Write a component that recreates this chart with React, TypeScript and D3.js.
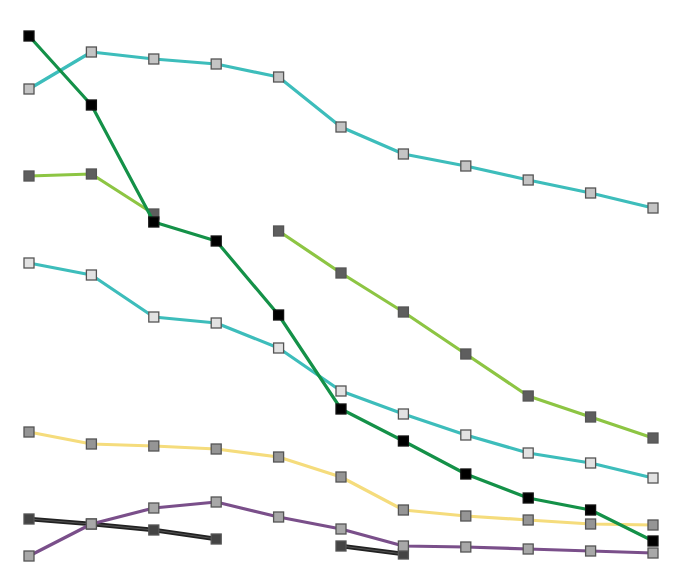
import React, { useEffect, useRef } from "react";
import * as d3 from "d3";

const periods = ["P1", "P2", "P3", "P4", "P5", "P6", "P7", "P8", "P9", "P10", "P11"];

const tealTop: (number | null)[] = [94.4, 101.8, 100.4, 99.4, 96.8, 86.8, 81.4, 79, 76.2, 73.6, 70.6];
const green: (number | null)[] = [105, 91.2, 67.8, 64, 49.2, 30.4, 24, 17.4, 12.6, 10.2, 4];
const lime: (number | null)[] = [77, 77.4, 69.4, null, 66, 57.6, 49.8, 41.4, 33, 28.8, 24.6];
const tealLow: (number | null)[] = [59.6, 57.2, 48.8, 47.6, 42.6, 34, 29.4, 25.2, 21.6, 19.6, 16.6];
const yellow: (number | null)[] = [25.8, 23.4, 23, 22.4, 20.8, 16.8, 10.2, 9, 8.2, 7.4, 7.2];
const purple: (number | null)[] = [1, 7.4, 10.6, 11.8, 8.8, 6.4, 3, 2.8, 2.4, 2, 1.6];
const black: (number | null)[] = [8.4, 7.4, 6.2, 4.4, null, 3, 1.4, null, null, null, null];

type S = { name: string; values: (number | null)[]; color: string; marker: string; inner?: string };

const series: S[] = [
  { name: "black", values: black, color: "#222222", marker: "#444444", inner: "#555555" },
  { name: "purple", values: purple, color: "#7a4f8a", marker: "#a8a8a8" },
  { name: "yellow", values: yellow, color: "#f5dc7c", marker: "#959595" },
  { name: "tealLow", values: tealLow, color: "#3dbdbb", marker: "#e2e2e2" },
  { name: "lime", values: lime, color: "#8dc543", marker: "#5e5e5e" },
  { name: "tealTop", values: tealTop, color: "#3dbdbb", marker: "#c4c4c4" },
  { name: "green", values: green, color: "#149148", marker: "#000000" },
];

export default function App() {
  const ref = useRef<SVGSVGElement>(null);
  useEffect(() => {
    document.body.style.margin = "0";
    const svg = d3.select(ref.current);
    svg.selectAll("*").remove();
    const x = d3.scalePoint<string>().domain(periods).range([29, 653]);
    const y = d3.scaleLinear().domain([0, 105]).range([561, 36]);
    const line = d3
      .line<number | null>()
      .defined((d) => d !== null)
      .x((_, i) => x(periods[i]) as number)
      .y((d) => y(d as number));
    series.forEach((s) => {
      const g = svg.append("g");
      g.append("path")
        .attr("d", line(s.values) as string)
        .attr("fill", "none")
        .attr("stroke", s.color)
        .attr("stroke-width", s.inner ? 4.5 : 3.2)
        .attr("stroke-linejoin", "round");
      if (s.inner) {
        g.append("path")
          .attr("d", line(s.values) as string)
          .attr("fill", "none")
          .attr("stroke", s.inner)
          .attr("stroke-width", 1.2);
      }
      const pts = s.values
        .map((v, i) => ({ v, i }))
        .filter((d) => d.v !== null);
      g.selectAll("rect")
        .data(pts)
        .enter()
        .append("rect")
        .attr("x", (d) => (x(periods[d.i]) as number) - 5)
        .attr("y", (d) => y(d.v as number) - 5)
        .attr("width", 10)
        .attr("height", 10)
        .attr("fill", s.marker)
        .attr("stroke", s.marker === "#000000" ? "#111" : "#555")
        .attr("stroke-width", 1.3);
    });
  }, []);
  return <svg ref={ref} width={677} height={570} style={{ display: "block", background: "#fff" }} />;
}
